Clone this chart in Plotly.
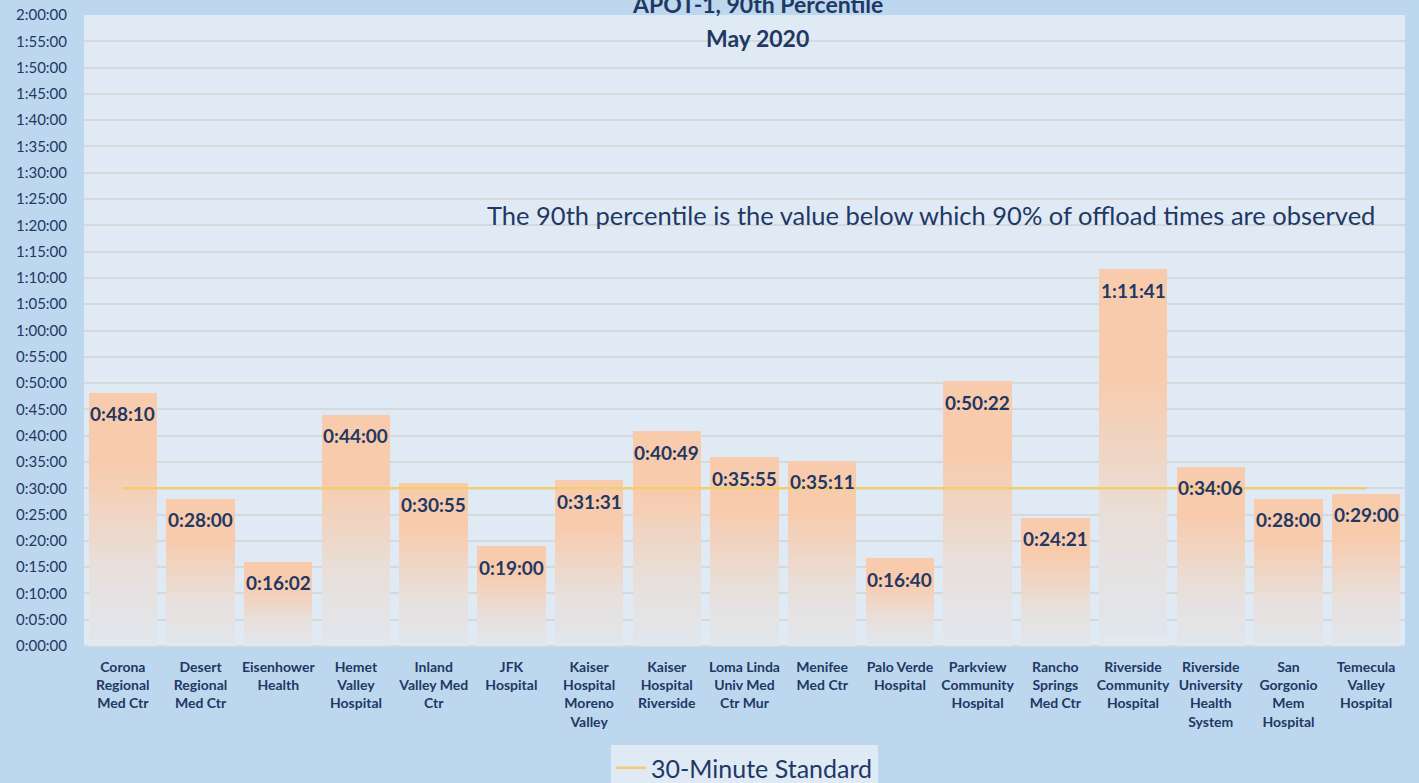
import plotly.graph_objects as go

# APOT-1 90th percentile, May 2020 (values in h:mm:ss)
hospitals = [
    "Corona<br>Regional<br>Med Ctr", "Desert<br>Regional<br>Med Ctr", "Eisenhower<br>Health",
    "Hemet<br>Valley<br>Hospital", "Inland<br>Valley Med<br>Ctr", "JFK<br>Hospital",
    "Kaiser<br>Hospital<br>Moreno<br>Valley", "Kaiser<br>Hospital<br>Riverside",
    "Loma Linda<br>Univ Med<br>Ctr Mur", "Menifee<br>Med Ctr", "Palo Verde<br>Hospital",
    "Parkview<br>Community<br>Hospital", "Rancho<br>Springs<br>Med Ctr",
    "Riverside<br>Community<br>Hospital", "Riverside<br>University<br>Health<br>System",
    "San<br>Gorgonio<br>Mem<br>Hospital", "Temecula<br>Valley<br>Hospital",
]
apot_labels = [
    "0:48:10", "0:28:00", "0:16:02", "0:44:00", "0:30:55", "0:19:00", "0:31:31", "0:40:49",
    "0:35:55", "0:35:11", "0:16:40", "0:50:22", "0:24:21", "1:11:41", "0:34:06", "0:28:00", "0:29:00",
]
standard_label = "0:30:00"
tick_labels = [
    "0:00:00", "0:05:00", "0:10:00", "0:15:00", "0:20:00", "0:25:00", "0:30:00", "0:35:00",
    "0:40:00", "0:45:00", "0:50:00", "0:55:00", "1:00:00", "1:05:00", "1:10:00", "1:15:00",
    "1:20:00", "1:25:00", "1:30:00", "1:35:00", "1:40:00", "1:45:00", "1:50:00", "1:55:00", "2:00:00",
]


def to_sec(s):
    h, m, sec = (int(p) for p in s.split(":"))
    return h * 3600 + m * 60 + sec


apot = [to_sec(s) for s in apot_labels]
standard = [to_sec(standard_label)] * len(hospitals)
tick_vals = [to_sec(s) for s in tick_labels]

NAVY = "#1f3864"
PLOT_BG = "#dfeaf5"
PAPER_BG = "#bdd7ee"

# gradient stops (fraction of bar height from the bottom -> rgb)
stops = [
    (0.00, (223, 234, 245)),
    (0.05, (226, 229, 234)),
    (0.30, (232, 224, 220)),
    (0.72, (248, 203, 173)),
    (1.00, (248, 203, 173)),
]


def grad_color(f):
    for (f0, c0), (f1, c1) in zip(stops, stops[1:]):
        if f0 <= f <= f1:
            t = (f - f0) / (f1 - f0) if f1 > f0 else 0
            c = [c0[i] + (c1[i] - c0[i]) * t for i in range(3)]
            return f"rgb({c[0]:.0f},{c[1]:.0f},{c[2]:.0f})"
    return "rgb(248,203,173)"


fig = go.Figure()

# bars as stacked slices so each one fades toward the bottom
n_slices = 40
for k in range(n_slices):
    fig.add_trace(go.Bar(
        x=hospitals,
        y=[v / n_slices for v in apot],
        marker=dict(color=grad_color((k + 0.5) / n_slices), line=dict(width=0)),
        width=0.88,
        showlegend=False,
        hoverinfo="skip",
    ))

fig.add_trace(go.Scatter(
    x=hospitals, y=standard, mode="lines", name="30-Minute Standard",
    line=dict(color="#f2cd72", width=2.5),
))

annotations = []
for h, v, lab in zip(hospitals, apot, apot_labels):
    annotations.append(dict(
        x=h, y=v, text=f"<b>{lab}</b>", showarrow=False, yanchor="middle", yshift=-21,
        font=dict(size=19, color=NAVY, family="Lato"),
    ))

annotations += [
    dict(x=0.51, y=1.018, xref="paper", yref="paper", text="<b>APOT-1, 90th Percentile</b>",
         showarrow=False, yanchor="middle", font=dict(size=23, color=NAVY, family="Lato")),
    dict(x=0.51, y=0.963, xref="paper", yref="paper", text="<b>May 2020</b>",
         showarrow=False, yanchor="middle", font=dict(size=23, color=NAVY, family="Lato")),
    dict(x=0.979, y=0.683, xref="paper", yref="paper",
         text="The 90th percentile is the value below which 90% of offload times are observed",
         showarrow=False, xanchor="right", yanchor="middle",
         font=dict(size=25.5, color=NAVY, family="Lato")),
]

fig.update_layout(
    width=1419, height=783,
    barmode="stack",
    paper_bgcolor=PAPER_BG,
    plot_bgcolor=PLOT_BG,
    margin=dict(l=84, r=14, t=15, b=137, autoexpand=False),
    font=dict(family="Lato", color=NAVY),
    annotations=annotations,
    showlegend=True,
    legend=dict(
        orientation="h", x=0.5, xanchor="center", y=-0.157, yanchor="top",
        bgcolor=PLOT_BG, font=dict(size=25, color=NAVY),
    ),
)
fig.update_xaxes(
    showgrid=False, tickfont=dict(size=14, color=NAVY, family="Lato", weight="bold"),
    ticks="", tickangle=0, showline=False, ticklabelstandoff=11, automargin=False,
)
fig.update_yaxes(
    range=[0, 7200], tickvals=tick_vals, ticktext=tick_labels,
    showgrid=True, gridcolor="#d6d8da", gridwidth=1.5, zeroline=True, zerolinecolor="#d6d8da",
    tickfont=dict(size=15, color=NAVY, family="Lato"), ticks="", ticklabelstandoff=16,
    automargin=False,
)

fig.write_html("out.html", config={"displayModeBar": False},
               post_script="document.body.style.margin='0';")
